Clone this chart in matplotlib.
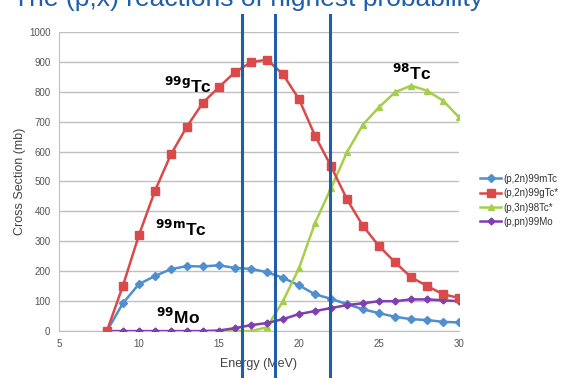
import matplotlib.pyplot as plt
from matplotlib import transforms

energy = list(range(8, 31))

tc99m = [0, 93, 157, 184, 207, 217, 216, 220, 211, 208, 197, 178,
         153, 123, 108, 90, 73, 60, 48, 40, 37, 31, 29]
tc99g = [0, 151, 320, 468, 590, 683, 763, 815, 865, 898, 907, 858,
         775, 653, 551, 440, 351, 284, 230, 180, 151, 123, 111]
tc98 = [0, 0, 0, 0, 0, 0, 0, 0, 0, 0, 13, 100,
        210, 361, 477, 598, 690, 748, 798, 820, 803, 770, 714]
mo99 = [0, 0, 0, 0, 0, 0, 0, 2, 10, 20, 27, 40,
        57, 67, 77, 87, 93, 100, 100, 106, 106, 103, 100]

series_names = ["(p,2n)99mTc", "(p,2n)99gTc*", "(p,3n)98Tc*", "(p,pn)99Mo"]
marker_lines = [16.45, 18.5, 21.95]

plt.rcParams['font.family'] = ['Liberation Sans', 'DejaVu Sans']

fig = plt.figure(figsize=(5.71, 3.78), dpi=100)
ax = fig.add_axes([0.103, 0.124, 0.701, 0.792])

ax.plot(energy, tc99m, color='#4F8FD0', marker='D', markersize=4, lw=1.8, label=series_names[0], zorder=3)
ax.plot(energy, tc99g, color='#DB4A4A', marker='s', markersize=6, lw=1.8, label=series_names[1], zorder=4)
ax.plot(energy, tc98, color='#A6CE4A', marker='^', markersize=5, lw=1.8, label=series_names[2], zorder=3)
ax.plot(energy, mo99, color='#7F3FAF', marker='D', markersize=3.5, lw=1.8, label=series_names[3], zorder=3)

ax.set_xlim(5, 30)
ax.set_ylim(0, 1000)
ax.set_xticks(range(5, 31, 5))
ax.set_yticks(range(0, 1001, 100))
ax.grid(axis='y', color='#BFBFBF', lw=1)
ax.set_axisbelow(True)
ax.tick_params(length=0, labelsize=7, colors='#555555', pad=6)
for s in ['top', 'right']:
    ax.spines[s].set_visible(False)
for s in ['left', 'bottom']:
    ax.spines[s].set_color('#BFBFBF')

ax.set_xlabel("Energy (MeV)", fontsize=9, color='#444444', labelpad=6)
ax.set_ylabel("Cross Section (mb)", fontsize=9, color='#444444', labelpad=2)

lbl = dict(fontsize=12.5, fontweight='bold', color='black')
ax.text(11.6, 795, r"$^{\mathbf{99g}}$Tc", **lbl)
ax.text(11.0, 318, r"$^{\mathbf{99m}}$Tc", **lbl)
ax.text(11.1, 25, r"$^{\mathbf{99}}$Mo", **lbl)
ax.text(25.8, 838, r"$^{\mathbf{98}}$Tc", **lbl)

trans = transforms.blended_transform_factory(ax.transData, fig.transFigure)
for xv in marker_lines:
    ax.plot([xv, xv], [0, 0.96], transform=trans, color='#1F5EA8', lw=2.2,
            clip_on=False, zorder=6)

fig.legend(loc='center left', bbox_to_anchor=(0.825, 0.47), frameon=False,
           fontsize=7, handlelength=2.2, handletextpad=0.2, labelspacing=0.45,
           labelcolor='#333333')

# title sits mostly above the image edge, as in the cropped source
fig.text(0.434, 0.985, "The (p,x) reactions of highest probability", fontsize=19,
         color='#1F5EA8', ha='center', va='baseline')

fig.savefig("out.png", dpi=100)
